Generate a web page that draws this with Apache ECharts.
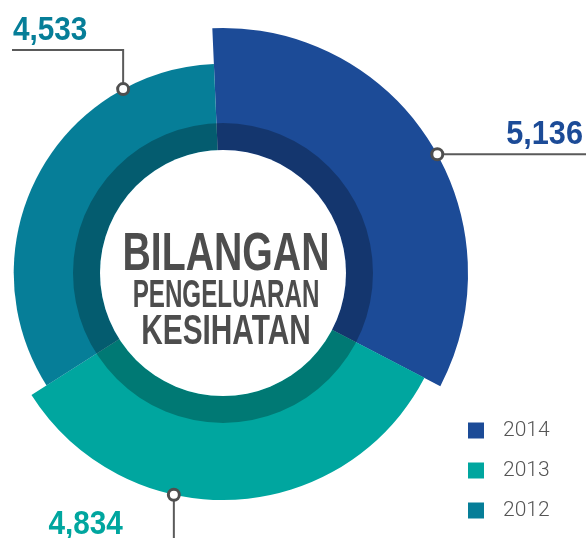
<!DOCTYPE html>
<html><head><meta charset="utf-8">
<script src="https://cdn.jsdelivr.net/npm/echarts@6/dist/echarts.min.js"></script>
<style>html,body{margin:0;padding:0;background:#fff}#c{width:586px;height:538px}</style>
</head><body><div id="c"></div>
<script>
// ---- data ----
const categories = ['2014', '2013', '2012'];
const values = [5136, 4834, 4533];
const valueLabels = ['5,136', '4,834', '4,533'];
const colors = ['#1c4b97', '#00a69f', '#067e98'];
const centerLines = ['BILANGAN', 'PENGELUARAN', 'KESIHATAN'];

// ---- layout ----
const CX = 223, CY = 273;
const radiusMin = 1000;
const dotAngles = [61, 192.5, 331.5]; // degrees clockwise from top
const numFont = 'bold 33px "Liberation Sans", Arial, sans-serif';

const chart = echarts.init(document.getElementById('c'), null, { renderer: 'canvas' });

const barSeries = categories.map((name, i) => ({
  type: 'bar', coordinateSystem: 'polar', name, stack: 'all',
  data: categories.map((c, j) => (j === i ? values[i] : '-')),
  barWidth: '100%',
  itemStyle: { color: colors[i] }, silent: true, z: 1
}));

const hiddenAxis = { axisLine: { show: false }, axisTick: { show: false }, axisLabel: { show: false }, splitLine: { show: false } };

const legendText = { fontFamily: 'Roboto, "Liberation Sans", sans-serif', fontWeight: 300, fontSize: 21, color: '#555', padding: [0, 0, 0, 14] };
const legends = categories.map((name, i) => ({
  data: [name], orient: 'vertical', left: 468, top: 420 + i * 40, padding: 0,
  itemWidth: 16, itemHeight: 16, icon: 'rect', textStyle: legendText
}));

chart.setOption({
  animation: false,
  polar: { center: [CX, CY], radius: [0, 245] },
  angleAxis: Object.assign({ type: 'category', data: categories, startAngle: 92.5, clockwise: true, boundaryGap: true }, hiddenAxis),
  radiusAxis: Object.assign({ type: 'value', min: radiusMin, max: Math.max(...values), startValue: radiusMin }, hiddenAxis),
  legend: legends,
  series: [
    ...barSeries,
    { type: 'pie', name: 'ring', radius: [123, 150], center: [CX, CY], silent: true, z: 3,
      data: [{ value: 1, name: 'ring' }], itemStyle: { color: 'rgba(0,0,0,0.27)' }, label: { show: false }, labelLine: { show: false } },
    { type: 'pie', name: 'hole', radius: [0, 123], center: [CX, CY], silent: true, z: 3,
      data: [{ value: 1, name: 'hole' }], itemStyle: { color: '#ffffff' }, label: { show: false }, labelLine: { show: false } }
  ]
});

// ---- annotations computed from the polar scales ----
const c0 = chart.convertToPixel({ polarIndex: 0 }, [radiusMin, 0]);
const dots = values.map((v, i) => {
  const p = chart.convertToPixel({ seriesIndex: i }, [v, i]);
  const r = Math.hypot(p[0] - c0[0], p[1] - c0[1]);
  const a = dotAngles[i] * Math.PI / 180;
  return [c0[0] + r * Math.sin(a), c0[1] - r * Math.cos(a)];
});

const lineStyle = { stroke: '#5a5a5a', lineWidth: 2, fill: null };
const g = [];
// 2014: right
g.push({ type: 'polyline', shape: { points: [dots[0], [586, dots[0][1]]] }, style: lineStyle, z: 10 });
g.push({ type: 'text', x: 583, y: dots[0][1] - 19, scaleX: 0.93, z: 10,
  style: { text: valueLabels[0], font: numFont, fill: colors[0], align: 'right', verticalAlign: 'middle' } });
// 2013: down
g.push({ type: 'polyline', shape: { points: [dots[1], [dots[1][0], 538]] }, style: lineStyle, z: 10 });
g.push({ type: 'text', x: dots[1][0] - 51, y: dots[1][1] + 30, scaleX: 0.9, z: 10,
  style: { text: valueLabels[1], font: numFont, fill: colors[1], align: 'right', verticalAlign: 'middle' } });
// 2012: up then left
g.push({ type: 'polyline', shape: { points: [dots[2], [dots[2][0], 50], [12, 50]] }, style: lineStyle, z: 10 });
g.push({ type: 'text', x: 13, y: 31, scaleX: 0.9, z: 10,
  style: { text: valueLabels[2], font: numFont, fill: colors[2], align: 'left', verticalAlign: 'middle' } });
dots.forEach(d => g.push({ type: 'circle', shape: { cx: d[0], cy: d[1], r: 5.5 }, style: { fill: '#fff', stroke: '#4f4f4f', lineWidth: 3 }, z: 11 }));

// center title
const cFonts = [53, 39, 42], cScale = [0.74, 0.62, 0.71], cDy = [-18, 23, 59];
centerLines.forEach((t, i) => g.push({ type: 'text', x: CX + 3, y: CY + cDy[i], scaleX: cScale[i], z: 12,
  style: { text: t, font: 'bold ' + cFonts[i] + 'px "Liberation Sans", Arial, sans-serif', fill: '#4d4d4d', align: 'center', verticalAlign: 'middle' } }));

chart.setOption({ graphic: g });
</script>
</body></html>
